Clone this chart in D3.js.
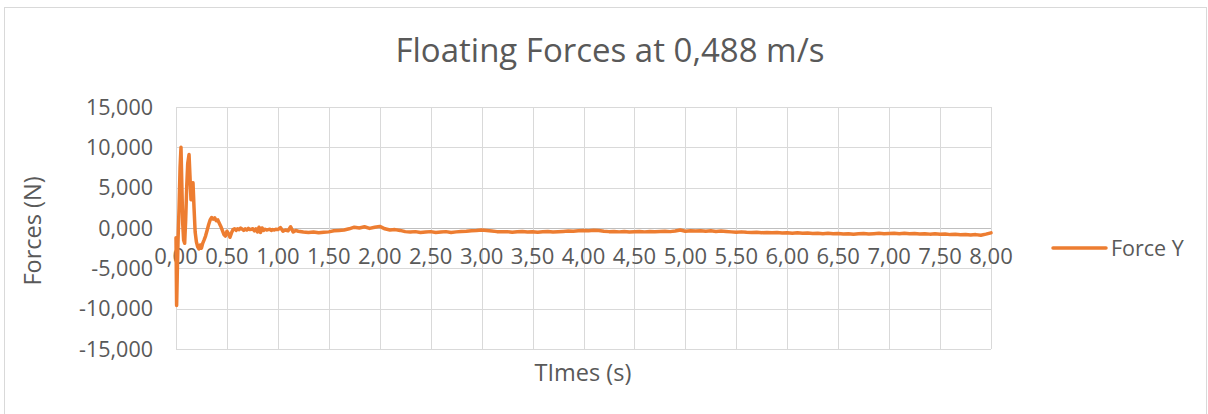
<!DOCTYPE html>
<html><head><meta charset="utf-8">
<script src="https://cdn.jsdelivr.net/npm/d3@7"></script>
<style>
html,body{margin:0;padding:0;background:#fff;}
svg text{font-family:"Open Sans",sans-serif;fill:#595959;}
</style></head>
<body>
<svg id="chart" width="1208" height="414"></svg>
<script>
// ---- data ----
const chartTitle = "Floating Forces at 0,488 m/s";
const xTitle = "TImes (s)";
const yTitle = "Forces (N)";
const seriesName = "Force Y";
const xTicks = [0,0.5,1,1.5,2,2.5,3,3.5,4,4.5,5,5.5,6,6.5,7,7.5,8];
const yTicks = [-15000,-10000,-5000,0,5000,10000,15000];
const times = [
 0,0.006,0.012,0.02,0.03,0.04,0.049,0.058,0.066,0.075,0.085,0.095,0.105,0.115,0.128,0.137,0.147,0.157,0.167,0.177,
 0.188,0.2,0.212,0.225,0.238,0.25,0.262,0.275,0.29,0.305,0.32,0.335,0.35,0.365,0.38,0.395,0.41,0.425,0.44,0.455,
 0.47,0.485,0.5,0.515,0.53,0.545,0.56,0.575,0.59,0.605,0.62,0.635,0.65,0.665,0.68,0.695,0.71,0.725,0.74,0.755,
 0.77,0.785,0.8,0.815,0.83,0.845,0.86,0.875,0.89,0.905,0.92,0.935,0.95,0.965,0.98,0.995,1.0,1.025,1.05,1.075,
 1.1,1.125,1.15,1.175,1.2,1.25,1.3,1.35,1.4,1.45,1.5,1.55,1.6,1.65,1.7,1.75,1.8,1.85,1.9,1.95,
 2.0,2.05,2.1,2.15,2.2,2.25,2.3,2.35,2.4,2.45,2.5,2.55,2.6,2.65,2.7,2.75,2.8,2.85,2.9,2.95,
 3.0,3.05,3.1,3.15,3.2,3.25,3.3,3.35,3.4,3.45,3.5,3.55,3.6,3.65,3.7,3.75,3.8,3.85,3.9,3.95,
 4.0,4.05,4.1,4.15,4.2,4.25,4.3,4.35,4.4,4.45,4.5,4.55,4.6,4.65,4.7,4.75,4.8,4.85,4.9,4.95,
 5.0,5.05,5.1,5.15,5.2,5.25,5.3,5.35,5.4,5.45,5.5,5.55,5.6,5.65,5.7,5.75,5.8,5.85,5.9,5.95,
 6.0,6.05,6.1,6.15,6.2,6.25,6.3,6.35,6.4,6.45,6.5,6.55,6.6,6.65,6.7,6.75,6.8,6.85,6.9,6.95,
 7.0,7.05,7.1,7.15,7.2,7.25,7.3,7.35,7.4,7.45,7.5,7.55,7.6,7.65,7.7,7.75,7.8,7.85,7.9,7.95,8.0
];
const forceY = [
 -1200,-9600,-6000,-1500,2500,7500,10000,5000,500,-1500,-1900,1000,5000,8000,9100,6500,3500,4800,5600,2500,
 -500,-1700,-2300,-2600,-2100,-2500,-1900,-1500,-1000,-300,400,1000,1300,1100,1250,900,1000,600,200,-300,
 -800,-1000,-400,-700,-1150,-600,-200,-100,-300,-100,-200,0,-150,-300,-100,-250,-50,-200,-150,-100,
 -350,-100,-500,100,-550,0,-300,-150,-250,-200,-150,-300,-200,-250,-150,-200,-200,50,-400,-250,
 -350,150,-500,-300,-400,-500,-550,-500,-600,-520,-480,-350,-300,-250,-100,100,0,150,-50,100,
 200,-100,-250,-200,-300,-450,-500,-450,-550,-500,-450,-550,-500,-450,-550,-480,-420,-400,-330,-300,
 -250,-320,-380,-450,-480,-450,-520,-470,-430,-500,-460,-520,-470,-430,-500,-460,-420,-380,-400,-330,
 -300,-350,-280,-320,-400,-450,-420,-480,-440,-500,-460,-420,-480,-430,-470,-420,-400,-450,-380,-250,
 -400,-330,-380,-330,-400,-350,-420,-380,-430,-480,-520,-480,-540,-560,-520,-580,-550,-600,-570,-620,
 -580,-640,-600,-650,-610,-680,-640,-700,-660,-720,-680,-750,-700,-780,-720,-690,-750,-700,-660,-720,
 -680,-640,-700,-660,-720,-680,-740,-700,-760,-720,-780,-740,-820,-780,-850,-800,-880,-820,-900,-760,-600
];

// ---- layout ----
const svg = d3.select("#chart");
const plot = {left:176, right:991, top:107, bottom:349};
const x = d3.scaleLinear().domain([0,8]).range([plot.left, plot.right]);
const y = d3.scaleLinear().domain([-15000,15000]).range([plot.bottom, plot.top]);
const fmtX = d => d3.format(".2f")(d).replace(".", ",");
const fmtY = d => d3.format(",.3f")(d/1000).replace(".", ",").replace("\u2212", "-");

svg.append("rect").attr("x",4.5).attr("y",7.5).attr("width",1202).attr("height",430)
  .attr("fill","#fff").attr("stroke","#d9d9d9").attr("stroke-width",1);

svg.append("text").attr("x",610).attr("y",62).attr("text-anchor","middle")
  .style("font-size","33px").text(chartTitle);

// gridlines
const g = svg.append("g");
g.selectAll("line.h").data(yTicks).join("line").attr("class","h")
  .attr("x1",plot.left).attr("x2",plot.right)
  .attr("y1",d=>Math.round(y(d))+0.5).attr("y2",d=>Math.round(y(d))+0.5)
  .attr("stroke",d=>d===0?"#bfbfbf":"#d9d9d9").attr("stroke-width",1);
g.selectAll("line.v").data(xTicks).join("line").attr("class","v")
  .attr("x1",d=>Math.round(x(d))+0.5).attr("x2",d=>Math.round(x(d))+0.5)
  .attr("y1",plot.top).attr("y2",plot.bottom)
  .attr("stroke","#d9d9d9").attr("stroke-width",1);

// y tick labels
svg.append("g").selectAll("text").data(yTicks).join("text")
  .attr("x",153).attr("y",d=>y(d)).attr("dy","0.35em").attr("text-anchor","end")
  .style("font-size","21.5px").text(fmtY);

// x tick labels
svg.append("g").selectAll("text").data(xTicks).join("text")
  .attr("x",d=>x(d)).attr("y",y(0)+36).attr("text-anchor","middle")
  .style("font-size","22px").text(fmtX);

// axis titles
svg.append("text").attr("x",583).attr("y",381).attr("text-anchor","middle")
  .style("font-size","23.5px").text(xTitle);
svg.append("text").attr("transform","translate(41,231) rotate(-90)").attr("text-anchor","middle")
  .style("font-size","23.5px").text(yTitle);

// line
const line = d3.line().x((d,i)=>x(times[i])).y(d=>y(d));
svg.append("path").datum(forceY).attr("d",line).attr("fill","none")
  .attr("stroke","#ED7D31").attr("stroke-width",3.5).attr("stroke-linejoin","round").attr("stroke-linecap","round");

// legend
svg.append("line").attr("x1",1053).attr("x2",1106).attr("y1",248).attr("y2",248)
  .attr("stroke","#ED7D31").attr("stroke-width",3.5).attr("stroke-linecap","round");
svg.append("text").attr("x",1111).attr("y",248).attr("dy","0.35em")
  .style("font-size","21.5px").text(seriesName);
</script>
</body></html>
